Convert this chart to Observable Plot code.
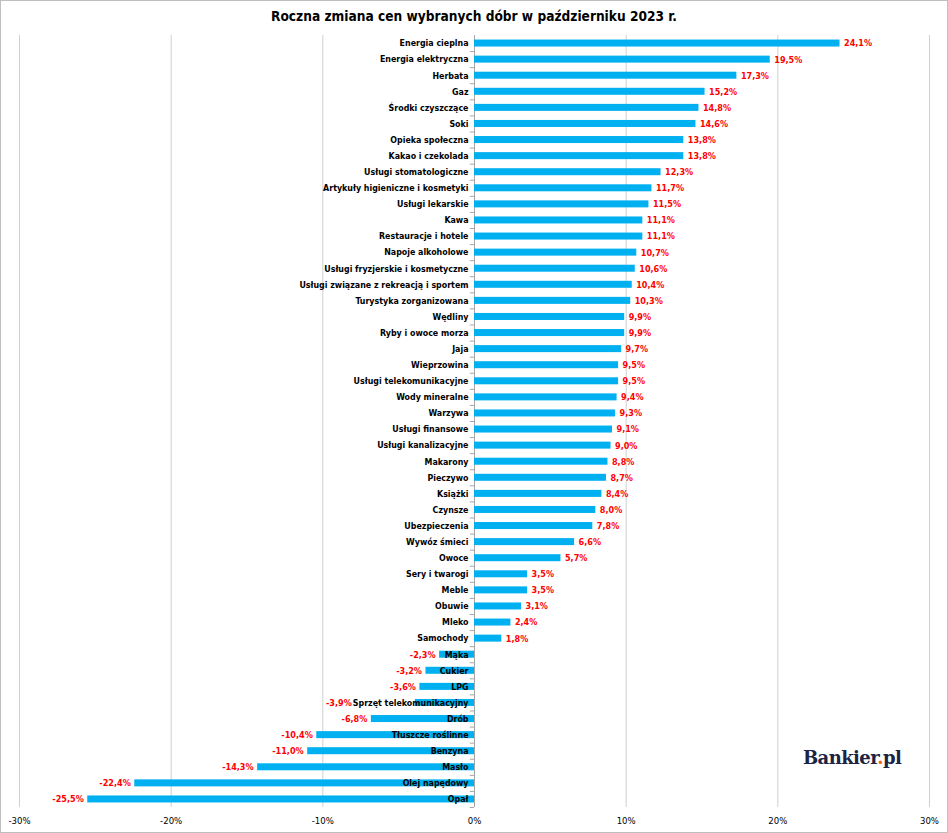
<!DOCTYPE html>
<html>
<head>
<meta charset="utf-8">
<script src="https://cdn.jsdelivr.net/npm/d3@7"></script>
<script src="https://cdn.jsdelivr.net/npm/@observablehq/plot@0.6"></script>
<style>
  body { margin: 0; background: #fff; }
  #wrap { position: relative; width: 948px; height: 833px; overflow: hidden; background: #fff; }
  #border { position: absolute; left: 0; top: 0; width: 946px; height: 831px; border: 1px solid #bfbfbf; pointer-events: none; }
  #title { position: absolute; top: 8px; left: 0; width: 948px; text-align: center;
    font-family: "DejaVu Sans Condensed", "DejaVu Sans", sans-serif; font-weight: bold; font-size: 13.6px; color: #000; }
  #logo { position: absolute; left: 803px; top: 747px; font-family: "DejaVu Serif", "Liberation Serif", serif;
    font-weight: bold; font-size: 18px; color: #1b2444; letter-spacing: -0.6px; }
  #logo span { color: #f26522; }
  svg { position: absolute; left: 0; top: 0; }
</style>
</head>
<body>
<div id="wrap">
  <div id="chart"></div>
  <div id="title">Roczna zmiana cen wybranych dóbr w październiku 2023 r.</div>
  <div id="logo">Bankier<span>.</span>pl</div>
  <div id="border"></div>
</div>
<script>
const categories = [
  "Energia cieplna", "Energia elektryczna", "Herbata", "Gaz", "Środki czyszczące", "Soki",
  "Opieka społeczna", "Kakao i czekolada", "Usługi stomatologiczne", "Artykuły higieniczne i kosmetyki",
  "Usługi lekarskie", "Kawa", "Restauracje i hotele", "Napoje alkoholowe", "Usługi fryzjerskie i kosmetyczne",
  "Usługi związane z rekreacją i sportem", "Turystyka zorganizowana", "Wędliny", "Ryby i owoce morza", "Jaja",
  "Wieprzowina", "Usługi telekomunikacyjne", "Wody mineralne", "Warzywa", "Usługi finansowe",
  "Usługi kanalizacyjne", "Makarony", "Pieczywo", "Książki", "Czynsze", "Ubezpieczenia", "Wywóz śmieci",
  "Owoce", "Sery i twarogi", "Meble", "Obuwie", "Mleko", "Samochody", "Mąka", "Cukier", "LPG",
  "Sprzęt telekomunikacyjny", "Drób", "Tłuszcze roślinne", "Benzyna", "Masło", "Olej napędowy", "Opał"
];
const values = [
  24.1, 19.5, 17.3, 15.2, 14.8, 14.6,
  13.8, 13.8, 12.3, 11.7,
  11.5, 11.1, 11.1, 10.7, 10.6,
  10.4, 10.3, 9.9, 9.9, 9.7,
  9.5, 9.5, 9.4, 9.3, 9.1,
  9.0, 8.8, 8.7, 8.4, 8.0, 7.8, 6.6,
  5.7, 3.5, 3.5, 3.1, 2.4, 1.8, -2.3, -3.2, -3.6,
  -3.9, -6.8, -10.4, -11.0, -14.3, -22.4, -25.5
];
const xTicks = [-30, -20, -10, 0, 10, 20, 30];

const font = '"DejaVu Sans Condensed", "DejaVu Sans", sans-serif';
const catSize = 8.8, valSize = 9;
const W = 948, ML = 19, MR = 19;
const pxPerUnit = (W - ML - MR) / 60;

// measure category label widths so negative value labels don't collide with them
const ctx = document.createElement("canvas").getContext("2d");
ctx.font = `bold ${catSize}px ${font}`;

const data = categories.map((c, i) => ({ category: c, value: values[i] }));
const pos = data.filter(d => d.value >= 0);
const neg = data.filter(d => d.value < 0).map(d => {
  const labelLeftPx = -(6 + ctx.measureText(d.category).width + 1);
  const barEndPx = d.value * pxPerUnit - 4;
  return { ...d, lx: Math.min(barEndPx, labelLeftPx) / pxPerUnit };
});
const fmt = v => v.toFixed(1).replace(".", ",") + "%";

const chart = Plot.plot({
  width: W,
  height: 833,
  marginTop: 35,
  marginBottom: 26,
  marginLeft: ML,
  marginRight: MR,
  style: { fontFamily: font, fontSize: "9px", color: "#000", background: "transparent" },
  x: { domain: [-30, 30], label: null },
  y: { domain: categories, axis: null, paddingInner: 0.565, paddingOuter: 0.2825, round: false },
  marks: [
    Plot.ruleX(xTicks, { stroke: "#d0d0d0", strokeWidth: 1 }),
    Plot.ruleX([0], { stroke: "#a6a6a6", strokeWidth: 1 }),
    Plot.ruleY(categories, { y: d => d, x1: -0.28, x2: 0, dy: 8.04, stroke: "#a6a6a6" }),
    Plot.ruleY([0], { frameAnchor: "bottom", stroke: "#a6a6a6" }),
    Plot.barX(data, { x: "value", y: "category", fill: "#00b0f0" }),
    Plot.text(data, { x: 0, y: "category", text: "category", textAnchor: "end", dx: -6,
      fontWeight: "bold", fill: "#000", fontSize: catSize }),
    Plot.text(pos, { x: "value", y: "category", text: d => fmt(d.value),
      textAnchor: "start", dx: 4, fontWeight: "bold", fill: "#ff0000", fontSize: valSize }),
    Plot.text(neg, { x: "lx", y: "category", text: d => fmt(d.value),
      textAnchor: "end", fontWeight: "bold", fill: "#ff0000", fontSize: valSize }),
    Plot.axisX({ ticks: xTicks, tickFormat: d => `${d}%`, tickSize: 0, tickPadding: 10, label: null, fontSize: 9.5 })
  ]
});
document.getElementById("chart").appendChild(chart);
</script>
</body>
</html>
